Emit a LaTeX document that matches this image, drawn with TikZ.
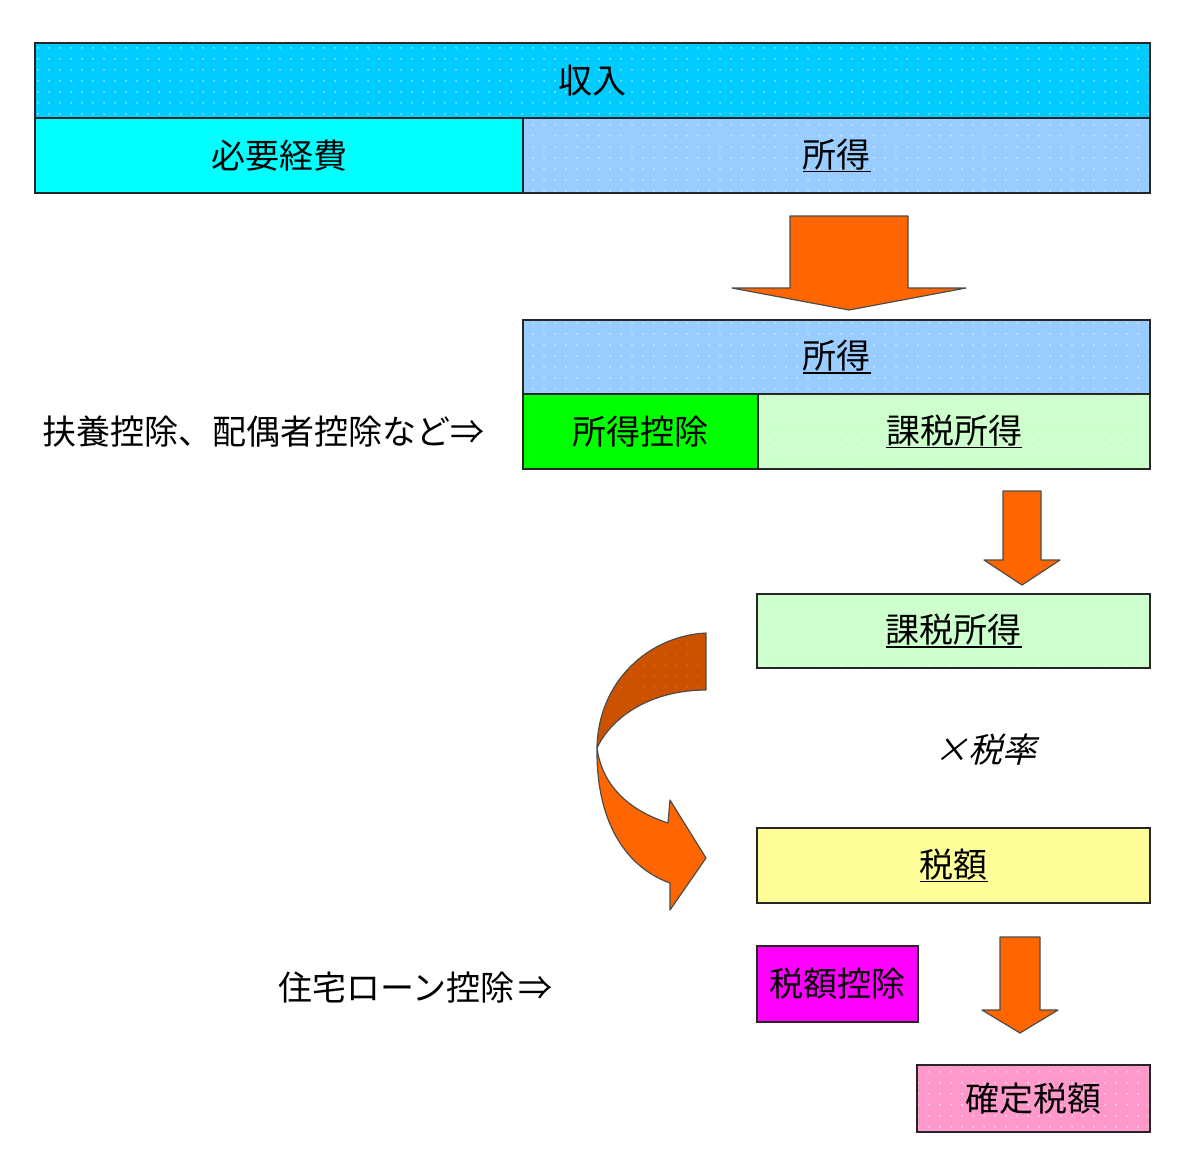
\documentclass[tikz,border=0pt]{standalone}
\usepackage{fontspec}
\newfontfamily\jp{Noto Sans CJK JP}
\newfontfamily\jpslant[FakeSlant=0.25]{Noto Sans CJK JP}
\usepackage{tikz}
\usetikzlibrary{positioning,patterns.meta}

\definecolor{incomeblue}{RGB}{0,204,255}
\definecolor{costcyan}{RGB}{0,255,255}
\definecolor{gainblue}{RGB}{153,204,255}
\definecolor{dedgreen}{RGB}{0,255,0}
\definecolor{taxgreen}{RGB}{204,255,204}
\definecolor{taxyellow}{RGB}{255,255,153}
\definecolor{creditpink}{RGB}{255,0,255}
\definecolor{finalpink}{RGB}{255,153,204}
\definecolor{arroworange}{RGB}{255,102,0}
\definecolor{arrowdark}{RGB}{204,82,0}

\pgfdeclarepattern{
  name=sparsedots, type=uncolored,
  bottom left={\pgfpoint{0pt}{0pt}}, top right={\pgfpoint{5.5pt}{5.5pt}},
  tile size={\pgfpoint{5.5pt}{5.5pt}},
  code={\pgfpathcircle{\pgfpoint{2.75pt}{2.75pt}}{0.45pt}\pgfusepath{fill}}
}

\newcommand\ulin[1]{\setbox0\hbox{#1}\rlap{\rule[-2.5pt]{\wd0}{0.8pt}}\box0}

\begin{document}
\begin{tikzpicture}[
    x=0.5pt, y=-0.5pt,
    font=\jp\fontsize{17}{20}\selectfont,
    field/.style={draw=black!85, line width=1.4pt, inner sep=0pt, outer sep=0pt, anchor=north west, minimum height=37.5pt},
    dotfill/.style={preaction={fill=#1}, pattern=sparsedots, pattern color=white!85!#1},
    blockarrow/.style={draw=black!70, line width=0.6pt, fill=arroworange, line join=round}
]
\useasboundingbox (0,0) rectangle (1200,1175);

% income split
\node[field, dotfill=incomeblue, minimum width=557.5pt] (income) at (35,43) {収入};
\node[field, fill=costcyan, minimum width=244pt] (cost) at (income.south west) {必要経費};
\node[field, dotfill=gainblue, minimum width=313.5pt] (gain) at (cost.north east) {\ulin{所得}};

% income after deductions
\node[field, dotfill=gainblue, minimum width=313.5pt, minimum height=37pt] (gain2) at (523,320) {\ulin{所得}};
\node[field, fill=dedgreen, minimum width=117.5pt] (deduct) at (gain2.south west) {所得控除};
\node[field, dotfill=taxgreen, minimum width=196pt] (taxable) at (deduct.north east) {\ulin{課税所得}};
\node[anchor=east] (deductnote) at (492,432) {扶養控除、配偶者控除など⇒};

% tax
\node[field, dotfill=taxgreen, minimum width=196.5pt, minimum height=37pt] (taxable2) at (757,594) {\ulin{課税所得}};
\node (rate) at (985,750) {\jpslant ×税率};
\node[field, fill=taxyellow, minimum width=196.5pt] (tax) at (757,828) {\ulin{税額}};
\node[field, fill=creditpink, minimum width=80.5pt, minimum height=38pt] (credit) at (757,946) {税額控除};
\node[anchor=east] (creditnote) at (560,988) {住宅ローン控除\kern2pt⇒};
\node[field, dotfill=finalpink, minimum width=116.5pt, minimum height=33.5pt] (final) at (917,1065) {確定税額};

% block arrows
\foreach \cx/\sw/\top/\hy/\hw/\tip in {849/59/216/288/117/310, 1022/19/491/560/38/585, 1020/20/937/1010/38/1033}
  \draw[blockarrow] ({\cx-\sw},\top) -- ({\cx+\sw},\top) -- ({\cx+\sw},\hy) -- ({\cx+\hw},\hy)
    -- (\cx,\tip) -- ({\cx-\hw},\hy) -- ({\cx-\sw},\hy) -- cycle;

% curved arrow
\draw[blockarrow, preaction={fill=arrowdark}, pattern=sparsedots, pattern color=arroworange]
  (706,633) .. controls (648,636) and (598,682) .. (597,748)
  .. controls (612,716) and (652,690) .. (706,690) -- cycle;
\draw[blockarrow] (597,748) .. controls (596,825) and (628,868) .. (670,883) -- (670,910)
  -- (706,858) -- (670,800) -- (668,823) .. controls (628,810) and (602,785) .. (597,748) -- cycle;
\end{tikzpicture}
\end{document}
